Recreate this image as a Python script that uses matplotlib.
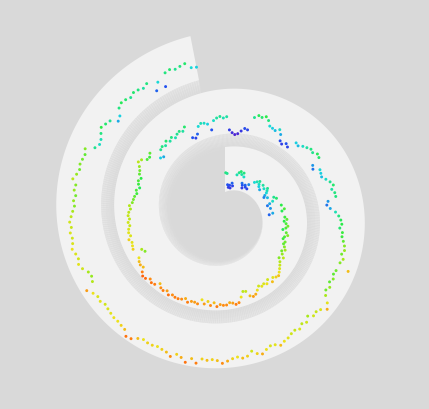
import numpy as np
import matplotlib.pyplot as plt
from matplotlib.collections import LineCollection
from matplotlib.colors import LinearSegmentedColormap

# one reading every 2 degrees along the spiral, 0 = inner edge of band, 100 = outer edge
first_turn = [
    46, 44, 20, 14, 18, 12, 22, 16, 40, 45,
    48, 42, 46, 38, 24, 20, 14, 22, 18, 26,
    16, 36, 40, 44, 38, 34, 42, 30, 38, 44,
    40, 36, 30, 26, 32, 44, 48, 38, 30, 24,
    52, 28, 56, 50, 30, 22, 54, 58, 52, 56,
    60, 56, 50, 58, 62, 56, 54, 60, 58, 62,
    66, 60, 64, 70, 62, 68, 72, 76, 80, 84,
    82, 78, 84, 74, 80, 76, 78, 74, 80, 86,
    88, 84, 72, 70, 80, 90, 92, 88, 86, 90,
    90, 88, 92, 84, 90, 82, 88, 80, 90, 88,
    88, 92, 86, 90, 92, 92, 90, 94, 88, 92,
    90, 84, 92, 94, 90, 96, 97, 92, 84, 86,
    84, 80, 62, 66, 82, 80, 78, 82, 76, 78,
    76, 72, 74, 70, 72, 70, 66, 68, 62, 60,
    58, 54, 56, 50, 54, 56, 52, 58, 60, 64,
    70, 66, 56, 54, 58, 34, 30, 44, 46, 42,
    48, 42, 46, 40, 44, 46, 42, 48, 20, 16,
    22, 36, 40, 38, 34, 20, 38, 42, 44, 40,
]
second_turn = [
    42, 14, 8, 4, 6, 12, 18, 16, 44, 50,
    48, 52, 46, 36, 34, 32, 38, 30, 18, 14,
    20, 16, 34, 32, 38, 42, 46, 44, 50, 48,
    28, 24, 36, 34, 32, 38, 44, 48, 42, 46,
    46, 28, 24, 30, 40, 46, 50, 52, 48, 54,
    54, 58, 62, 64, 60, 66, 62, 84, 60, 58,
    62, 58, 64, 60, 66, 78, 86, 76, 72, 74,
    66, 74, 70, 76, 72, 74, 78, 80, 84, 78,
    76, 80, 86, 82, 74, 82, 84, 80, 82, 86,
    90, 84, 82, 84, 82, 92, 84, 94, 86, 82,
    90, 84, 82, 80, 82, 82, 80, 84, 92, 94,
    84, 82, 80, 80, 78, 76, 74, 78, 76, 80,
    88, 68, 64, 66, 74, 78, 74, 76, 80, 76,
    74, 76, 72, 74, 70, 66, 62, 64, 60, 64,
    62, 70, 64, 60, 62, 60, 58, 62, 44, 38,
    40, 46, 52, 48, 44, 30, 34, 46, 50, 48,
    44, 48, 46, 42, 46, 22, 36, 20, 46, 48,
    44, 46, 48, 36, 34,
]
values = np.array(first_turn + second_turn, dtype=float)

per_turn = 180
cx, cy = 225, 215
r0, pitch = 67, 58
band_h = 45
scale_h = 48
end_deg = 709

cmap = LinearSegmentedColormap.from_list('spiral', [
    (0.00, '#5a18cc'), (0.20, '#2050f0'), (0.35, '#18d8e0'),
    (0.52, '#28ec48'), (0.66, '#a8e818'), (0.80, '#ece21a'),
    (0.91, '#ff8410'), (1.00, '#ff5008')])


def r_outer(deg):
    return r0 + pitch * deg / 360.0


def to_xy(deg, r):
    a = np.radians(deg)
    return cx + r * np.sin(a), cy - r * np.cos(a)


fig = plt.figure(figsize=(4.29, 4.10), dpi=100, facecolor='#d9d9d9')
ax = fig.add_axes([0, 0, 1, 1])
ax.set_xlim(0, 429)
ax.set_ylim(410, 0)
ax.axis('off')

# the band
deg = np.linspace(0, end_deg, 1500)
ro = r_outer(deg)
ri = ro - band_h
ox, oy = to_xy(deg, ro)
ix, iy = to_xy(deg[::-1], ri[::-1])
ax.fill(np.r_[ox, ix], np.r_[oy, iy], color='#f2f2f2', lw=0, zorder=1)

# soft fade + faint rays on the inner side
fringe = np.clip((deg - 100) / 260 * 13, 0, 15)
n_steps = 6
for k in range(n_steps):
    ra = ri - fringe * k / n_steps
    rb = ri - fringe * (k + 1) / n_steps
    xa, ya = to_xy(deg, ra)
    xb, yb = to_xy(deg[::-1], rb[::-1])
    ax.fill(np.r_[xa, xb], np.r_[ya, yb], color='#f2f2f2', lw=0,
            alpha=0.3 * (1 - k / n_steps), zorder=1)

ray_deg = np.arange(0.5, end_deg, 1.0)
ray_len = np.clip((ray_deg - 100) / 260 * 16, 0, 18)
for k in range(4):
    r_a = r_outer(ray_deg) - band_h - ray_len * k / 4 + 0.3
    r_b = r_outer(ray_deg) - band_h - ray_len * (k + 1) / 4
    xa, ya = to_xy(ray_deg, r_a)
    xb, yb = to_xy(ray_deg, r_b)
    segs = np.stack([np.c_[xa, ya], np.c_[xb, yb]], axis=1)
    ax.add_collection(LineCollection(segs, colors='#f2f2f2', linewidths=0.5,
                                     alpha=0.4 * (1 - k / 4), zorder=1))

# the dots
pt_deg = 1 + np.arange(len(values)) * 360 / per_turn
pt_r = r_outer(pt_deg) - scale_h * (1 - values / 100)
px, py = to_xy(pt_deg, pt_r)
ax.scatter(px, py, s=4.5, c=cmap(values / 100), marker='o', linewidths=0, zorder=3)

fig.savefig('out.png', dpi=100, facecolor=fig.get_facecolor())
